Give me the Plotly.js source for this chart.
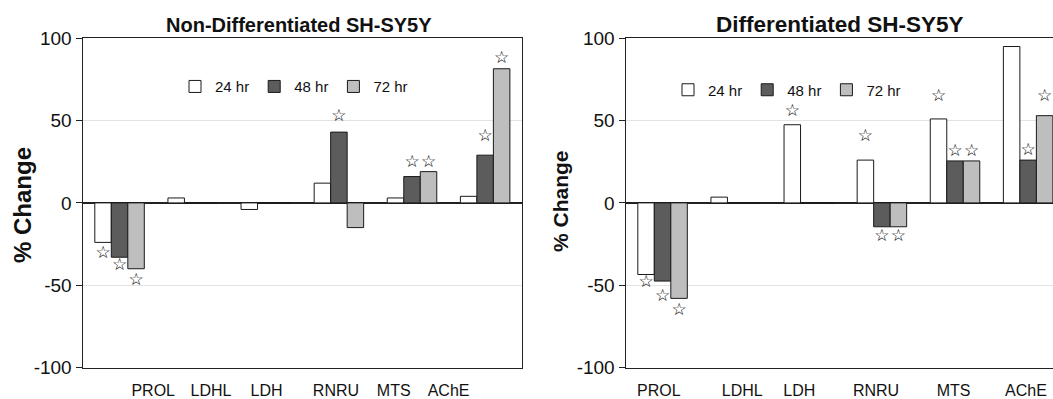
<!DOCTYPE html>
<html>
<head>
<meta charset="utf-8">
<script src="https://cdn.plot.ly/plotly-3.0.1.min.js"></script>
<style>
html,body{margin:0;padding:0;background:#fff;}
#chart{width:1053px;height:399px;}
</style>
</head>
<body>
<div id="chart"></div>
<script>
// ---- data ----
var categories = ['PROL', 'LDHL', 'LDH', 'RNRU', 'MTS', 'AChE'];
var seriesNames = ['24 hr', '48 hr', '72 hr'];

var nonDiff24 = [-24, 3, -4, 12, 3, 4];
var nonDiff48 = [-33, 0, 0, 43, 16, 29];
var nonDiff72 = [-40, 0, 0, -15, 19, 81.5];

var diff24 = [-43.5, 3.5, 47.5, 26, 51, 95];
var diff48 = [-47.5, 0, 0, -14.5, 25.5, 26];
var diff72 = [-58, 0, 0, -14.5, 25.5, 53];

// significance star heights (value axis), null = no star
var nonDiffStar24 = [-30.6, null, null, null, null, null];
var nonDiffStar48 = [-37.9, null, null, 52.1, 24.1, 39.9];
var nonDiffStar72 = [-47, null, null, null, 24.1, 87.4];

var diffStar24 = [-48.5, null, 55.5, 40, 64.5, 100.9];
var diffStar48 = [-57.3, null, null, -20.7, 31.2, 31.8];
var diffStar72 = [-65.8, null, null, -20.7, 31.2, 64.5];

// label anchor positions along the category axis (index units)
var leftLabelPos = [0.46, 1.25, 2.01, 2.96, 3.75, 4.5];
var rightLabelPos = [-0.05, 1.09, 1.87, 2.92, 3.98, 4.97];

// ---- styling / layout ----
var W = 1053, H = 399;
var colors = ['#ffffff', '#5c5c5c', '#bebebe'];
var FONT = 'Liberation Sans, Arial, sans-serif';
var BARGAP = 0.323;
var slot = (1 - BARGAP) / 3;
var idx = categories.map(function (c, i) { return i; });

function bars(vals, k, xa, ya, legend) {
  return {
    type: 'bar', x: idx, y: vals, name: seriesNames[k],
    xaxis: xa, yaxis: ya, legend: legend,
    marker: { color: colors[k], line: { color: '#1a1a1a', width: 1 } },
    hoverinfo: 'skip'
  };
}
function stars(vals, k, xa, ya) {
  var xs = [], ys = [], ts = [];
  vals.forEach(function (v, i) {
    if (v !== null) { xs.push(i + (k - 1) * slot); ys.push(v); ts.push('<b>\u2606</b>'); }
  });
  return {
    type: 'scatter', mode: 'text', x: xs, y: ys, text: ts,
    textposition: 'middle center', xaxis: xa, yaxis: ya,
    textfont: { family: 'DejaVu Sans, sans-serif', size: 17, color: '#000000' },
    cliponaxis: false, showlegend: false, hoverinfo: 'skip'
  };
}

var data = [
  bars(nonDiff24, 0, 'x', 'y', 'legend'),
  bars(nonDiff48, 1, 'x', 'y', 'legend'),
  bars(nonDiff72, 2, 'x', 'y', 'legend'),
  bars(diff24, 0, 'x2', 'y2', 'legend2'),
  bars(diff48, 1, 'x2', 'y2', 'legend2'),
  bars(diff72, 2, 'x2', 'y2', 'legend2'),
  stars(nonDiffStar24, 0, 'x', 'y'),
  stars(nonDiffStar48, 1, 'x', 'y'),
  stars(nonDiffStar72, 2, 'x', 'y'),
  stars(diffStar24, 0, 'x2', 'y2'),
  stars(diffStar48, 1, 'x2', 'y2'),
  stars(diffStar72, 2, 'x2', 'y2')
];

function px(v) { return v / W; }
function py(v) { return 1 - v / H; }

var yTicks = [-100, -50, 0, 50, 100];
function yaxisDef(top, bottom, anchor, mirror) {
  return {
    domain: [py(bottom), py(top)], anchor: anchor,
    range: [-100, 100], tickvals: yTicks, ticktext: yTicks.map(String),
    ticks: 'outside', ticklen: 6, tickcolor: '#222', tickwidth: 1,
    showline: true, linecolor: '#222', linewidth: 1.5, mirror: mirror,
    showgrid: true, gridcolor: '#e3e3e3', gridwidth: 1,
    zeroline: true, zerolinecolor: '#222', zerolinewidth: 1.5,
    tickfont: { family: FONT, size: 19, color: '#111' }, fixedrange: true
  };
}
function xaxisDef(l, r, range, labelPos, anchor) {
  return {
    domain: [px(l), px(r)], anchor: anchor, range: range,
    tickvals: labelPos, ticktext: categories,
    ticks: 'outside', ticklen: 8, tickcolor: 'rgba(0,0,0,0)',
    showline: true, linecolor: '#222', linewidth: 1.5, mirror: true,
    showgrid: false, zeroline: false,
    tickfont: { family: FONT, size: 16, color: '#111' }, fixedrange: true
  };
}

var leftL = 83, leftR = 521.7, rightL = 626, rightR = 1053;
var topY = 38.3, botY = 367.5;
var unitPx = (leftR - leftL) / 6;
var rightMax = -0.5 + (rightR - rightL) / unitPx;

var layout = {
  width: W, height: H,
  margin: { l: 0, r: 0, t: 0, b: 0, pad: 0 },
  paper_bgcolor: '#fff', plot_bgcolor: '#fff',
  barmode: 'group', bargap: BARGAP, bargroupgap: 0,
  font: { family: FONT, color: '#111' },
  xaxis: xaxisDef(leftL, leftR, [-0.5, 5.5], leftLabelPos, 'y'),
  yaxis: yaxisDef(topY, botY, 'x', true),
  xaxis2: xaxisDef(rightL, rightR, [-0.5, rightMax], rightLabelPos, 'y2'),
  yaxis2: yaxisDef(topY, botY, 'x2', false),
  xaxis3: {
    overlaying: 'x', anchor: 'free', position: (py(botY) + py(topY)) / 2,
    range: [-0.5, 5.5], tickvals: [0.5, 1.5, 2.5, 3.5, 4.5],
    ticks: 'outside', ticklen: 5, tickcolor: '#c8c8c8', tickwidth: 1,
    showticklabels: false, showline: false, showgrid: false, zeroline: false,
    domain: [px(leftL), px(leftR)], fixedrange: true
  },
  legend: {
    orientation: 'h', x: px(175), xanchor: 'left', y: py(86.7), yanchor: 'middle',
    bgcolor: 'rgba(0,0,0,0)', font: { family: FONT, size: 15, color: '#111' },
    traceorder: 'normal'
  },
  legend2: {
    orientation: 'h', x: px(668), xanchor: 'left', y: py(90), yanchor: 'middle',
    bgcolor: 'rgba(0,0,0,0)', font: { family: FONT, size: 15, color: '#111' },
    traceorder: 'normal'
  },
  annotations: [
    { text: '<b>Non-Differentiated SH-SY5Y</b>', xref: 'paper', yref: 'paper',
      x: px(299), y: py(25), xanchor: 'center', yanchor: 'middle', showarrow: false,
      font: { family: FONT, size: 20, color: '#111' } },
    { text: '<b>Differentiated SH-SY5Y</b>', xref: 'paper', yref: 'paper',
      x: px(840), y: py(24), xanchor: 'center', yanchor: 'middle', showarrow: false,
      font: { family: FONT, size: 22.5, color: '#111' } },
    { text: '<b>% Change</b>', xref: 'paper', yref: 'paper', textangle: -90,
      x: px(22), y: py(205), xanchor: 'center', yanchor: 'middle', showarrow: false,
      font: { family: FONT, size: 24, color: '#111' } },
    { text: '<b>% Change</b>', xref: 'paper', yref: 'paper', textangle: -90,
      x: px(560), y: py(201), xanchor: 'center', yanchor: 'middle', showarrow: false,
      font: { family: FONT, size: 21, color: '#111' } }
  ],
  showlegend: true
};

Plotly.newPlot('chart', data, layout, { displayModeBar: false, staticPlot: true });
</script>
</body>
</html>
